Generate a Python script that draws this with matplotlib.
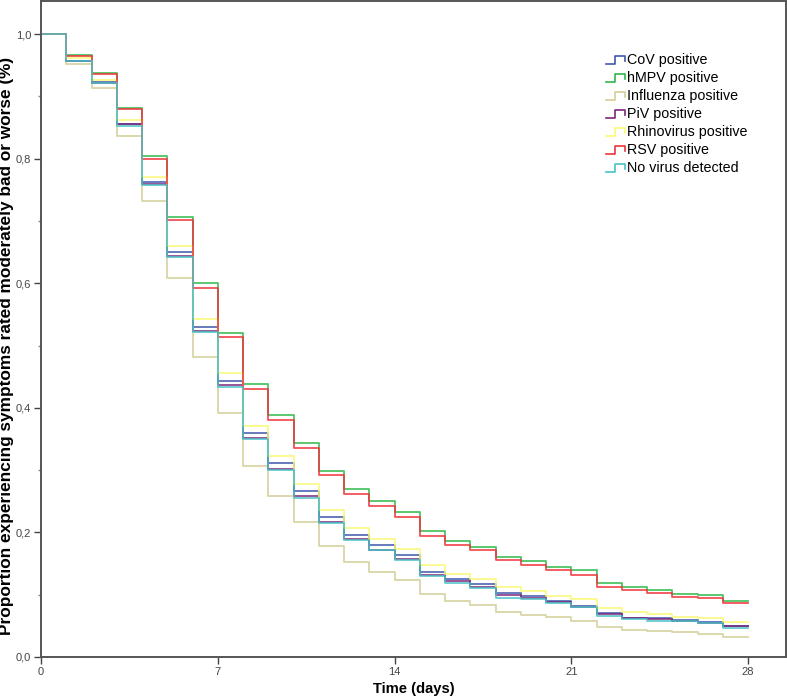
import matplotlib
matplotlib.use("Agg")
import matplotlib.pyplot as plt
from matplotlib.lines import Line2D
from matplotlib.ticker import MultipleLocator, FuncFormatter

# days 0..27 (value held over [d, d+1)), last one kept to day 28
days = list(range(29))

cov = [1.0, 0.957, 0.923, 0.856, 0.763, 0.650, 0.530, 0.443, 0.360, 0.311, 0.267, 0.225, 0.196, 0.179,
       0.163, 0.137, 0.125, 0.117, 0.103, 0.098, 0.090, 0.082, 0.071, 0.063, 0.063, 0.059, 0.056, 0.050]
hmpv = [1.0, 0.966, 0.938, 0.882, 0.804, 0.707, 0.600, 0.520, 0.438, 0.389, 0.343, 0.299, 0.269, 0.250,
        0.232, 0.202, 0.187, 0.177, 0.161, 0.154, 0.145, 0.139, 0.118, 0.112, 0.107, 0.101, 0.099, 0.090]
flu = [1.0, 0.952, 0.913, 0.836, 0.732, 0.608, 0.481, 0.392, 0.307, 0.258, 0.216, 0.178, 0.152, 0.137,
       0.123, 0.101, 0.090, 0.084, 0.072, 0.067, 0.064, 0.058, 0.048, 0.044, 0.042, 0.040, 0.037, 0.032]
piv = [1.0, 0.956, 0.922, 0.855, 0.760, 0.644, 0.523, 0.437, 0.352, 0.302, 0.258, 0.216, 0.190, 0.172,
       0.157, 0.131, 0.122, 0.113, 0.100, 0.095, 0.088, 0.081, 0.069, 0.062, 0.061, 0.058, 0.055, 0.049]
rhino = [1.0, 0.962, 0.926, 0.862, 0.770, 0.660, 0.542, 0.456, 0.371, 0.322, 0.278, 0.236, 0.207, 0.190,
         0.173, 0.147, 0.134, 0.125, 0.112, 0.106, 0.098, 0.093, 0.078, 0.072, 0.069, 0.064, 0.062, 0.056]
rsv = [1.0, 0.965, 0.936, 0.880, 0.800, 0.702, 0.593, 0.513, 0.430, 0.381, 0.335, 0.292, 0.261, 0.242,
       0.224, 0.195, 0.180, 0.171, 0.155, 0.148, 0.139, 0.132, 0.113, 0.108, 0.102, 0.097, 0.094, 0.086]
novirus = [1.0, 0.957, 0.921, 0.853, 0.758, 0.642, 0.521, 0.434, 0.350, 0.300, 0.256, 0.215, 0.188, 0.171,
           0.156, 0.130, 0.118, 0.110, 0.094, 0.093, 0.086, 0.080, 0.066, 0.061, 0.058, 0.057, 0.054, 0.047]

labels = ["CoV positive", "hMPV positive", "Influenza positive", "PiV positive",
          "Rhinovirus positive", "RSV positive", "No virus detected"]
series = [cov, hmpv, flu, piv, rhino, rsv, novirus]
colors = ["#3E58AC", "#2EB848", "#D3CE97", "#7C287D", "#FBF873", "#EF3338", "#48C2C5"]

plt.rcParams["font.family"] = ["Liberation Sans", "DejaVu Sans"]

W, H = 787, 699
fig = plt.figure(figsize=(W / 100, H / 100), dpi=100)
ax = fig.add_axes([41 / W, 1 - 657 / H, 745 / W, 656 / H])

for vals, lab, c in zip(series, labels, colors):
    y = vals + [vals[-1]]
    ax.plot(days, y, drawstyle="steps-post", color=c, lw=1.3, alpha=0.85, label=lab)

ax.set_xlim(0, 29.5)
ax.set_ylim(0, 1.053)
ax.xaxis.set_major_locator(MultipleLocator(7))
ax.yaxis.set_major_locator(MultipleLocator(0.2))
ax.yaxis.set_minor_locator(MultipleLocator(0.1))
ax.yaxis.set_major_formatter(FuncFormatter(lambda v, p: f"{v:.1f}".replace(".", ",")))
ax.tick_params(axis="both", which="major", direction="out", length=5, width=1, colors="#444444",
               labelsize=8, labelcolor="#444444", pad=2)
ax.tick_params(axis="y", which="minor", direction="out", length=2.5, width=1, colors="#888888")
for s in ax.spines.values():
    s.set_color("#555555")
    s.set_linewidth(1.4)

# axis titles placed in pixels, the plot fills nearly the whole figure
fig.text(414 / W, 1 - 689 / H, "Time (days)", ha="center", va="center",
         fontsize=10.6, fontweight="bold")
fig.text(-1 / W, 1 - 346 / H, "Proportion experiencing symptoms rated moderately bad or worse (%)",
         rotation=90, ha="left", va="center", fontsize=12.4, fontweight="bold")

# legend with small step glyphs, drawn in pixel positions
for i, (lab, c) in enumerate(zip(labels, colors)):
    yc = 60 + 18 * i
    xs = [606, 615, 615, 625, 625]
    ys = [yc + 4, yc + 4, yc - 4, yc - 4, yc + 1]
    fig.add_artist(Line2D([x / W for x in xs], [1 - v / H for v in ys], color=c, lw=1.2,
                          transform=fig.transFigure))
    fig.text(627 / W, 1 - yc / H, lab, ha="left", va="center", fontsize=10.3)

fig.savefig("out.png", dpi=100)
